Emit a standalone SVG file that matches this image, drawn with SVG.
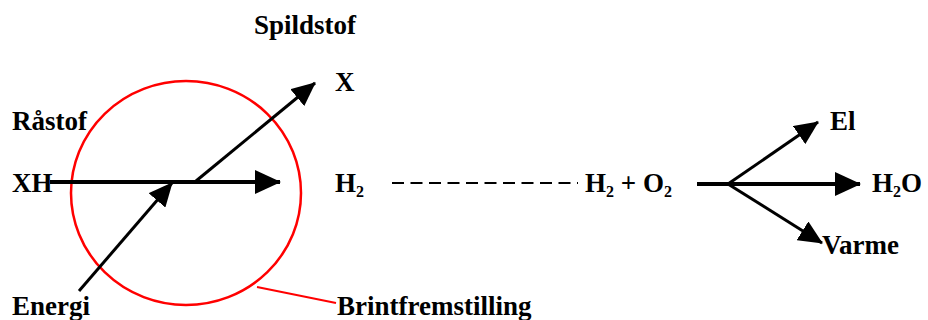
<svg xmlns="http://www.w3.org/2000/svg" width="928" height="320" viewBox="0 0 928 320">
<style>
text{font-family:'Liberation Serif','DejaVu Serif',serif;font-weight:700;font-size:27px;fill:#000}
.sub{font-size:16px}
.ln{stroke:#000;fill:none}
</style>
<defs>
<marker id="ah" viewBox="0 0 26 24" refX="25" refY="12" markerWidth="26" markerHeight="24" markerUnits="userSpaceOnUse" orient="auto">
<path d="M0,0 L26,12 L0,24 Z" fill="#000"/>
</marker>
<marker id="ah2" viewBox="0 0 24 22" refX="23" refY="11" markerWidth="24" markerHeight="22" markerUnits="userSpaceOnUse" orient="auto">
<path d="M0,0 L24,11 L0,22 Z" fill="#000"/>
</marker>
</defs>
<rect width="928" height="320" fill="#fff"/>
<g id="process">
<ellipse cx="186" cy="193" rx="115" ry="112" fill="none" stroke="#f00" stroke-width="2.5"/>
<line x1="257" y1="287" x2="336" y2="303" stroke="#f00" stroke-width="2"/>
</g>
<g id="connectors">
<line class="ln" x1="50" y1="182" x2="280" y2="182" stroke-width="4" marker-end="url(#ah)"/>
<line class="ln" x1="79" y1="291" x2="172" y2="183" stroke-width="3" marker-end="url(#ah2)"/>
<line class="ln" x1="196" y1="181" x2="315" y2="83" stroke-width="3" marker-end="url(#ah2)"/>
<line class="ln" x1="392" y1="183" x2="578" y2="183" stroke-width="2" stroke-dasharray="12 6.5"/>
<line class="ln" x1="697" y1="184" x2="860" y2="184" stroke-width="4" marker-end="url(#ah)"/>
<line class="ln" x1="728" y1="184" x2="818" y2="122" stroke-width="3" marker-end="url(#ah2)"/>
<line class="ln" x1="728" y1="184" x2="822" y2="243" stroke-width="3" marker-end="url(#ah2)"/>
</g>
<g id="spildstof"><text x="254" y="34">Spildstof</text></g>
<g id="x"><text x="335" y="91">X</text></g>
<g id="raastof"><text x="12" y="130">Råstof</text></g>
<g id="xh"><text x="12" y="192">XH</text></g>
<g id="energi"><text x="12" y="315">Energi</text></g>
<g id="brint"><text x="337" y="315">Brintfremstilling</text></g>
<g id="h2"><text x="335" y="192">H<tspan class="sub" dy="5">2</tspan></text></g>
<g id="h2o2"><text x="585" y="192">H<tspan class="sub" dy="5">2</tspan><tspan dy="-5"> + O</tspan><tspan class="sub" dy="5">2</tspan></text></g>
<g id="el"><text x="830" y="130">El</text></g>
<g id="h2o"><text x="872" y="192">H<tspan class="sub" dy="5">2</tspan><tspan dy="-5">O</tspan></text></g>
<g id="varme"><text x="822" y="254">Varme</text></g>
</svg>
